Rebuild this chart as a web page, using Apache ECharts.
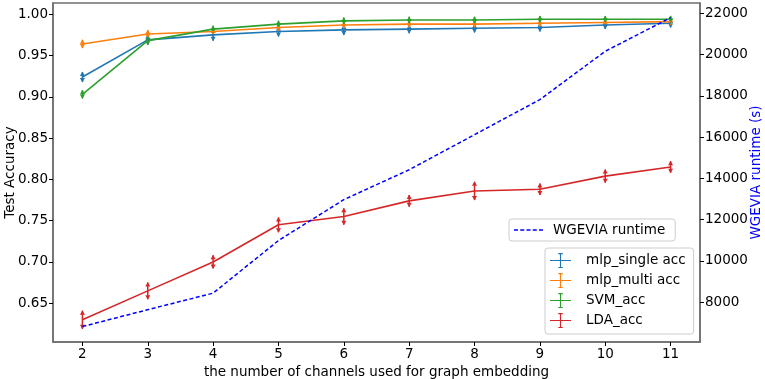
<!DOCTYPE html>
<html>
<head>
<meta charset="utf-8">
<script src="https://cdn.jsdelivr.net/npm/echarts@6/dist/echarts.min.js"></script>
<style>
html,body{margin:0;padding:0;background:#fff;}
#chart{width:765px;height:379px;}
</style>
</head>
<body>
<div id="chart"></div>
<script>
const channels = [2, 3, 4, 5, 6, 7, 8, 9, 10, 11];
const xTicks = [2, 3, 4, 5, 6, 7, 8, 9, 10, 11];
const accTicks = [0.65, 0.70, 0.75, 0.80, 0.85, 0.90, 0.95, 1.00];
const runtimeTicks = [8000, 10000, 12000, 14000, 16000, 18000, 20000, 22000];

const mlpSingle = [0.924, 0.969, 0.975, 0.979, 0.981, 0.982, 0.983, 0.984, 0.987, 0.989];
const mlpSingleErr = [0.006, 0.006, 0.007, 0.006, 0.006, 0.005, 0.005, 0.005, 0.005, 0.005];
const mlpMulti = [0.964, 0.976, 0.979, 0.984, 0.987, 0.988, 0.988, 0.989, 0.990, 0.991];
const mlpMultiErr = [0.005, 0.005, 0.004, 0.004, 0.004, 0.004, 0.004, 0.004, 0.004, 0.004];
const svmAcc = [0.903, 0.968, 0.982, 0.988, 0.992, 0.993, 0.993, 0.994, 0.994, 0.994];
const svmErr = [0.005, 0.005, 0.004, 0.004, 0.004, 0.004, 0.004, 0.004, 0.004, 0.004];
const ldaAcc = [0.630, 0.665, 0.700, 0.745, 0.755, 0.774, 0.786, 0.788, 0.804, 0.815];
const ldaErr = [0.011, 0.010, 0.008, 0.009, 0.010, 0.007, 0.011, 0.007, 0.008, 0.007];
const runtime = [6820, 7640, 8440, 10990, 12970, 14420, 16120, 17820, 20160, 21790];

const FONT = 'DejaVu Sans';
const SPINE = '#6e6e6e';
const C = {blue:'#1f77b4', orange:'#ff7f0e', green:'#2ca02c', red:'#d62728'};

function pairs(vals){ return channels.map((x,i)=>[x, vals[i]]); }
function errData(vals, err){ return channels.map((x,i)=>[x, vals[i]-err[i], vals[i]+err[i]]); }
function errRender(color){
  return function(params, api){
    const x = api.value(0), lo = api.value(1), hi = api.value(2);
    const p1 = api.coord([x, hi]);
    const p2 = api.coord([x, lo]);
    const a = 2.5, h = 4;
    return {type:'group', children:[
      {type:'line', shape:{x1:p1[0], y1:p1[1], x2:p2[0], y2:p2[1]}, style:{stroke:color, lineWidth:1.5}},
      {type:'polygon', shape:{points:[[p1[0]-a,p1[1]+h],[p1[0]+a,p1[1]+h],[p1[0],p1[1]-0.5]]}, style:{fill:color}},
      {type:'polygon', shape:{points:[[p2[0]-a,p2[1]-h],[p2[0]+a,p2[1]-h],[p2[0],p2[1]+0.5]]}, style:{fill:color}}
    ]};
  };
}
function lineSeries(name, vals, color){
  return {name:name, type:'line', xAxisIndex:0, yAxisIndex:0, data:pairs(vals), symbol:'none',
    lineStyle:{color:color, width:1.6}, itemStyle:{color:color}, animation:false, z:2};
}
function errSeries(id, vals, err, color){
  return {name:id, type:'custom', xAxisIndex:0, yAxisIndex:0, data:errData(vals, err),
    encode:{x:0, y:[1,2]}, renderItem:errRender(color), animation:false, z:2, silent:true};
}
const errIcon = 'path://M0,9.25 L28,9.25 L28,10.75 L0,10.75 Z M13.25,0 L14.75,0 L14.75,20 L13.25,20 Z M11,0 L17,0 L17,1.5 L11,1.5 Z M11,18.5 L17,18.5 L17,20 L11,20 Z';
const dashIcon = 'path://M0,0 L4,0 L4,1.6 L0,1.6 Z M6.25,0 L10.25,0 L10.25,1.6 L6.25,1.6 Z M12.5,0 L16.5,0 L16.5,1.6 L12.5,1.6 Z M18.75,0 L22.75,0 L22.75,1.6 L18.75,1.6 Z M25,0 L29,0 L29,1.6 L25,1.6 Z';

const chart = echarts.init(document.getElementById('chart'), null, {renderer:'canvas'});
const labelStyle = {fontFamily:FONT, fontSize:13.5, color:'#000'};
chart.setOption({
  animation:false,
  backgroundColor:'#fff',
  grid:{left:53, right:65, top:3, bottom:37, show:true, borderColor:SPINE, borderWidth:1.5,
        containLabel:false, outerBoundsMode:'none'},
  legend:[
    {data:[{name:'WGEVIA runtime', icon:dashIcon, itemStyle:{color:'#0000ff'}}], left:509, top:219, orient:'vertical',
     itemWidth:29, itemHeight:1.6, padding:[4,10,4,5],
     borderColor:'#cccccc', borderWidth:1, borderRadius:3, backgroundColor:'rgba(255,255,255,0.8)',
     textStyle:{fontFamily:FONT, fontSize:13.5, color:'#000', padding:[0,0,0,5]}},
    {data:[
      {name:'mlp_single acc', icon:errIcon, itemStyle:{color:C.blue}},
      {name:'mlp_multi acc', icon:errIcon, itemStyle:{color:C.orange}},
      {name:'SVM_acc', icon:errIcon, itemStyle:{color:C.green}},
      {name:'LDA_acc', icon:errIcon, itemStyle:{color:C.red}}
     ], left:545, top:248, orient:'vertical',
     itemWidth:27, itemHeight:15, itemGap:5, padding:[5,8,6,5],
     borderColor:'#cccccc', borderWidth:1, borderRadius:3, backgroundColor:'rgba(255,255,255,0.8)',
     textStyle:{fontFamily:FONT, fontSize:13.5, color:'#000', padding:[0,0,0,7]}}
  ],
  xAxis:[{
    type:'value', min:1.55, max:11.45,
    name:'the number of channels used for graph embedding', nameLocation:'middle', nameGap:23,
    nameTextStyle:{fontFamily:FONT, fontSize:13.5, color:'#000'},
    axisLine:{show:true, lineStyle:{color:SPINE, width:1.5}},
    axisTick:{show:true, length:4, lineStyle:{color:'#000', width:1}, customValues:xTicks},
    axisLabel:Object.assign({margin:5, customValues:xTicks, formatter:v=>String(v)}, labelStyle),
    splitLine:{show:false}
  }],
  yAxis:[{
    type:'value', position:'left', min:0.6031, max:1.0136,
    name:'Test Accuracy', nameLocation:'middle', nameGap:36, nameRotate:90, nameMoveOverlap:false,
    nameTextStyle:{fontFamily:FONT, fontSize:13.5, color:'#000'},
    axisLine:{show:true, lineStyle:{color:SPINE, width:1.5}},
    axisTick:{show:true, length:4, lineStyle:{color:'#000', width:1}, customValues:accTicks},
    axisLabel:Object.assign({margin:5, customValues:accTicks, formatter:v=>v.toFixed(2)}, labelStyle),
    splitLine:{show:false}
  },{
    type:'value', position:'right', min:6073, max:22500,
    name:'WGEVIA runtime (s)', nameLocation:'middle', nameGap:49, nameRotate:90, nameMoveOverlap:false,
    nameTextStyle:{fontFamily:FONT, fontSize:13.5, color:'#0000ff'},
    axisLine:{show:true, lineStyle:{color:SPINE, width:1.5}},
    axisTick:{show:true, length:4, lineStyle:{color:'#000', width:1}, customValues:runtimeTicks},
    axisLabel:Object.assign({margin:5, customValues:runtimeTicks, formatter:v=>String(v)}, labelStyle),
    splitLine:{show:false}
  }],
  series:[
    lineSeries('mlp_single acc', mlpSingle, C.blue),
    errSeries('_e1', mlpSingle, mlpSingleErr, C.blue),
    lineSeries('mlp_multi acc', mlpMulti, C.orange),
    errSeries('_e2', mlpMulti, mlpMultiErr, C.orange),
    lineSeries('SVM_acc', svmAcc, C.green),
    errSeries('_e3', svmAcc, svmErr, C.green),
    lineSeries('LDA_acc', ldaAcc, C.red),
    errSeries('_e4', ldaAcc, ldaErr, C.red),
    {name:'WGEVIA runtime', type:'line', xAxisIndex:0, yAxisIndex:1, data:pairs(runtime), symbol:'none',
     lineStyle:{color:'#0000ff', width:1.5, type:[4,2.5]}, itemStyle:{color:'#0000ff'}, z:3, animation:false}
  ]
});
</script>
</body>
</html>
